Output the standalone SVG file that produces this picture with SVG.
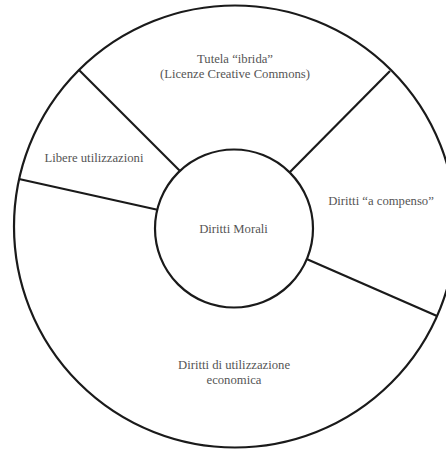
<svg xmlns="http://www.w3.org/2000/svg" width="446" height="450" viewBox="0 0 446 450">
<style>
.ring{fill:none;stroke:#1a1a1a;stroke-width:2.2}
.core{fill:#fff;stroke:#1a1a1a;stroke-width:2.2}
.spoke{stroke:#1a1a1a;stroke-width:2.2;fill:none}
.lbl{font-family:"Liberation Serif","Times New Roman",serif;font-size:12.7px;fill:#555;text-anchor:middle}
</style>
<rect width="446" height="450" fill="#fff"/>
<g id="outer"><circle class="ring" cx="235" cy="226.5" r="221"/></g>
<g id="connectors">
<line class="spoke" x1="79" y1="70" x2="183" y2="174"/>
<line class="spoke" x1="390" y1="71" x2="286" y2="176"/>
<line class="spoke" x1="19" y1="179" x2="163" y2="211"/>
<line class="spoke" x1="437" y1="316" x2="302" y2="257"/>
</g>
<g id="core"><circle class="core" cx="234" cy="228.5" r="79"/>
<text class="lbl" x="233.5" y="233">Diritti Morali</text></g>
<g id="tutela"><text class="lbl" x="235" y="63">Tutela “ibrida”</text>
<text class="lbl" x="235" y="78">(Licenze Creative Commons)</text></g>
<g id="libere"><text class="lbl" x="94" y="162">Libere utilizzazioni</text></g>
<g id="compenso"><text class="lbl" x="381" y="205">Diritti “a compenso”</text></g>
<g id="economica"><text class="lbl" x="234" y="369">Diritti di utilizzazione</text>
<text class="lbl" x="234" y="384">economica</text></g>
</svg>
